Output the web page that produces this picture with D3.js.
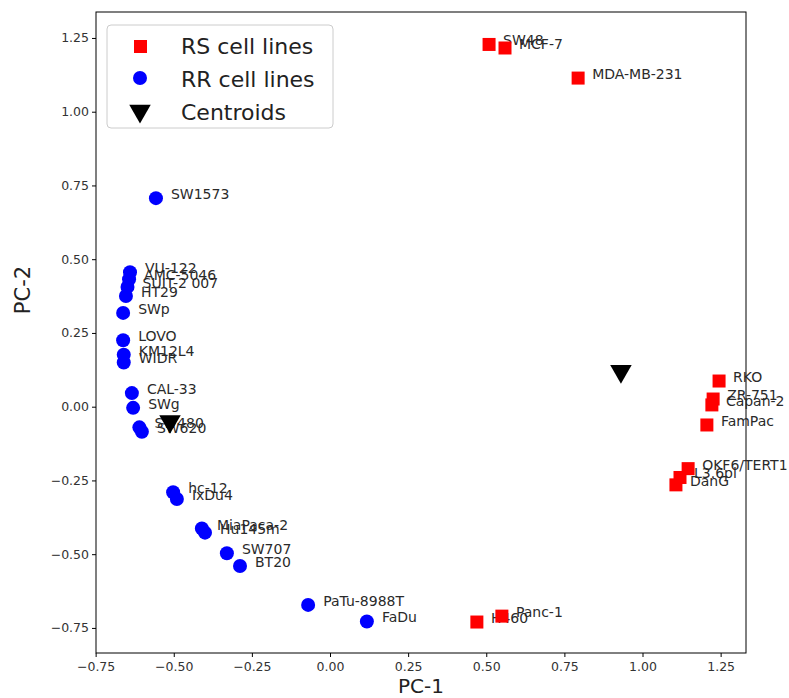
<!DOCTYPE html>
<html>
<head>
<meta charset="utf-8">
<script src="https://cdn.jsdelivr.net/npm/d3@7"></script>
<style>
  body { margin: 0; background: #fff; }
  text { font-family: "DejaVu Sans", sans-serif; }
</style>
</head>
<body>
<script>
// RS cell lines (red squares)
const rsNames = ['SW48', 'MCF-7', 'MDA-MB-231', 'RKO', 'ZR-751', 'Capan-2', 'FamPac', 'OKF6/TERT1', 'L3.6pl', 'DanG', 'H460', 'Panc-1'];
const rsX = [0.509, 0.560, 0.794, 1.245, 1.226, 1.222, 1.206, 1.146, 1.120, 1.107, 0.470, 0.550];
const rsY = [1.228, 1.216, 1.114, 0.087, 0.026, 0.006, -0.062, -0.210, -0.240, -0.265, -0.730, -0.710];

// RR cell lines (blue circles)
const rrNames = ['SW1573', 'VU-122', 'AMC-5046', 'SUIT-2 007', 'HT29', 'SWp', 'LOVO', 'KM12L4', 'WIDR', 'CAL-33', 'SWg', 'SW480', 'SW620', 'hc-12', 'IxDu4', 'MiaPaca-2', 'Hu145m', 'SW707', 'BT20', 'PaTu-8988T', 'FaDu'];
const rrX = [-0.557, -0.640, -0.643, -0.648, -0.653, -0.662, -0.662, -0.660, -0.660, -0.634, -0.630, -0.610, -0.602, -0.502, -0.490, -0.410, -0.400, -0.330, -0.288, -0.070, 0.118];
const rrY = [0.707, 0.456, 0.432, 0.406, 0.375, 0.318, 0.225, 0.176, 0.150, 0.046, -0.004, -0.070, -0.085, -0.290, -0.313, -0.413, -0.427, -0.497, -0.540, -0.672, -0.728];

// centroids (black triangles)
const centroidX = [-0.512, 0.931];
const centroidY = [-0.050, 0.120];

const xTicks = [-0.75, -0.5, -0.25, 0, 0.25, 0.5, 0.75, 1.0, 1.25];
const yTicks = [-0.75, -0.5, -0.25, 0, 0.25, 0.5, 0.75, 1.0, 1.25];

const legendLabels = ['RS cell lines', 'RR cell lines', 'Centroids'];

const width = 789;
const height = 698;
const plotLeft = 96, plotRight = 746, plotTop = 12, plotBottom = 653;

const x = d3.scaleLinear().domain([-0.7488, 1.3312]).range([plotLeft, plotRight]);
const y = d3.scaleLinear().domain([-0.835, 1.338]).range([plotBottom, plotTop]);

const svg = d3.select('body')
  .append('svg')
  .attr('width', width)
  .attr('height', height);

const fmt = d3.format('.2f');

svg.append('g')
  .attr('transform', 'translate(0,' + plotBottom + ')')
  .call(d3.axisBottom(x).tickValues(xTicks).tickFormat(fmt).tickSize(4).tickSizeOuter(0))
  .call(g => g.select('.domain').remove())
  .selectAll('text').attr('font-size', 12.5).attr('fill', '#333').attr('dy', '0.85em');

svg.append('g')
  .attr('transform', 'translate(' + plotLeft + ',0)')
  .call(d3.axisLeft(y).tickValues(yTicks).tickFormat(fmt).tickSize(4).tickSizeOuter(0))
  .call(g => g.select('.domain').remove())
  .selectAll('text').attr('font-size', 12.5).attr('fill', '#333');

// frame
svg.append('rect')
  .attr('x', plotLeft).attr('y', plotTop)
  .attr('width', plotRight - plotLeft).attr('height', plotBottom - plotTop)
  .attr('fill', 'none').attr('stroke', '#000').attr('stroke-width', 1);

const plot = svg.append('g');
const sq = 13;
const labelSize = 14;

// RS
rsNames.forEach((n, i) => {
  plot.append('rect')
    .attr('x', x(rsX[i]) - sq / 2).attr('y', y(rsY[i]) - sq / 2)
    .attr('width', sq).attr('height', sq)
    .attr('fill', '#ff0000');
  plot.append('text')
    .attr('x', x(rsX[i]) + 14).attr('y', y(rsY[i]) + 1)
    .attr('font-size', labelSize).attr('fill', '#2a2a2a')
    .text(n);
});

// RR
rrNames.forEach((n, i) => {
  plot.append('circle')
    .attr('cx', x(rrX[i])).attr('cy', y(rrY[i]))
    .attr('r', 7)
    .attr('fill', '#0000ff');
  plot.append('text')
    .attr('x', x(rrX[i]) + 15).attr('y', y(rrY[i]) + 1)
    .attr('font-size', labelSize).attr('fill', '#2a2a2a')
    .text(n);
});

const tri = d3.symbol().type(d3.symbolTriangle).size(200);

plot.selectAll('.centroid')
  .data(centroidX)
  .enter()
  .append('path')
  .attr('class', 'centroid')
  .attr('d', tri)
  .attr('transform', (d, i) => 'translate(' + x(d) + ',' + y(centroidY[i]) + ') rotate(180)')
  .attr('fill', '#000');

// legend
const lg = svg.append('g').attr('transform', 'translate(107,25)');
lg.append('rect')
  .attr('width', 226).attr('height', 103)
  .attr('rx', 4)
  .attr('fill', '#fff').attr('fill-opacity', 0.8)
  .attr('stroke', '#ccc');

lg.append('rect').attr('x', 27).attr('y', 15).attr('width', sq).attr('height', sq).attr('fill', '#ff0000');
lg.append('circle').attr('cx', 33).attr('cy', 53).attr('r', 7).attr('fill', '#0000ff');
lg.append('path').attr('d', tri).attr('transform', 'translate(33,86) rotate(180)').attr('fill', '#000');

lg.selectAll('.lgtext')
  .data(legendLabels)
  .enter()
  .append('text')
  .attr('class', 'lgtext')
  .attr('x', 74)
  .attr('y', (d, i) => 29 + i * 33)
  .attr('font-size', 22)
  .attr('fill', '#222')
  .text(d => d);

// axis titles
svg.append('text')
  .attr('x', (plotLeft + plotRight) / 2).attr('y', 693)
  .attr('text-anchor', 'middle')
  .attr('font-size', 20).attr('fill', '#222')
  .text('PC-1');

svg.append('text')
  .attr('transform', 'translate(30,290) rotate(-90)')
  .attr('text-anchor', 'middle')
  .attr('font-size', 21).attr('fill', '#222')
  .text('PC-2');
</script>
</body>
</html>
